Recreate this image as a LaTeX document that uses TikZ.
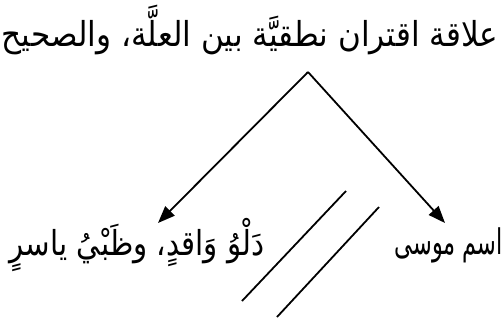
\documentclass[tikz,border=0pt]{standalone}
\usepackage{fontspec}
\usepackage{graphicx}
\newfontfamily\arabicfont[Script=Arabic]{DejaVu Sans}
\TeXXeTstate=1
\usetikzlibrary{arrows.meta}
\begin{document}
\begin{tikzpicture}[x=1bp,y=-1bp,
  lbl/.style={inner sep=0pt,font=\arabicfont\fontsize{30}{36}\selectfont},
  conn/.style={line width=1.8bp,-{Triangle[length=17bp,width=13bp]}},
  bar/.style={line width=1.8bp}]
\useasboundingbox (0,0) rectangle (504,320);
\node[lbl] (top) at (250,30) {\scalebox{1.04}[1.15]{\beginR علاقة اقتران نطقيَّة بين العلَّة، والصحيح\endR}};
\node[lbl] (left) at (137,245) {\scalebox{0.98}[1.15]{\beginR دَلْوُ وَاقدٍ، وظَبْيُ ياسرٍ\endR}};
\node[lbl,anchor=east] (right) at (503,245) {\scalebox{0.75}[1.18]{\beginR اسم موسى\endR}};
\coordinate (apex) at (308,72);
\coordinate (tipL) at (158,223);
\coordinate (tipR) at (445,223);
\draw[conn] (apex) -- (tipL);
\draw[conn] (apex) -- (tipR);
\coordinate (a1) at (346,191);
\coordinate (a2) at (242,301);
\coordinate (b1) at (379,207);
\coordinate (b2) at (277,317);
\draw[bar] (a1) -- (a2);
\draw[bar] (b1) -- (b2);
\end{tikzpicture}
\end{document}
